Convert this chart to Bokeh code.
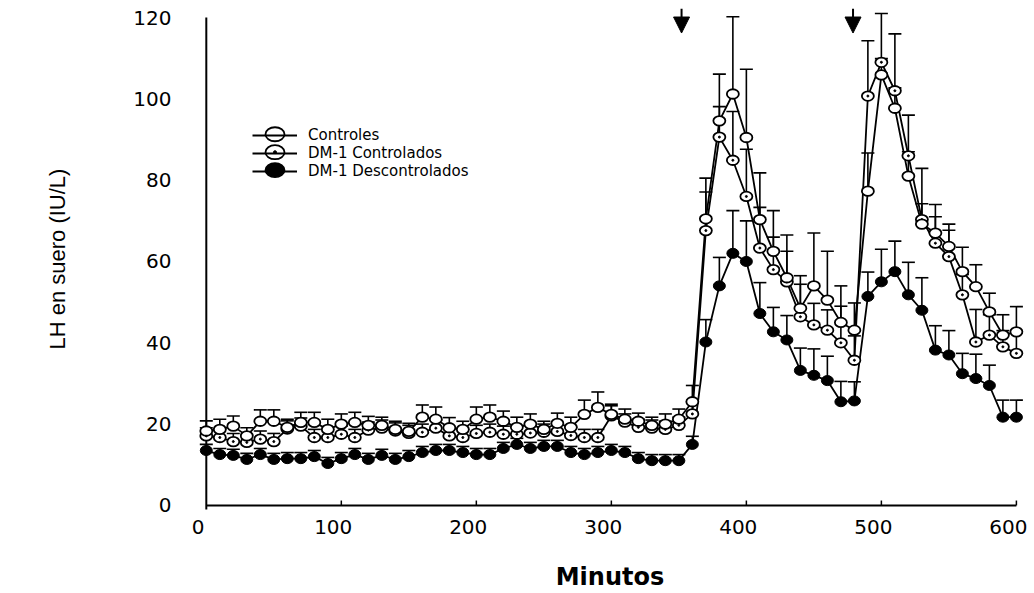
from bokeh.plotting import figure
from bokeh.models import (ColumnDataSource, Range1d, FixedTicker, Whisker, TeeHead,
                          Legend, LegendItem, Arrow, NormalHead)
from bokeh.embed import file_html
from bokeh.resources import INLINE

# ---------------- data ----------------
minutes = [0, 10, 20, 30, 40, 50, 60, 70, 80, 90, 100, 110, 120, 130, 140, 150, 160, 170, 180, 190,
           200, 210, 220, 230, 240, 250, 260, 270, 280, 290, 300, 310, 320, 330, 340, 350, 360, 370, 380, 390,
           400, 410, 420, 430, 440, 450, 460, 470, 480, 490, 500, 510, 520, 530, 540, 550, 560, 570, 580, 590, 600]

controles = [18.3, 18.7, 19.5, 17.1, 20.7, 20.7, 19.2, 20.4, 20.4, 18.7, 20.0, 20.4, 19.7, 19.7, 18.7, 18.2,
             21.7, 21.2, 19.1, 18.7, 21.2, 21.7, 20.7, 19.2, 20.0, 18.7, 20.2, 19.2, 22.4, 24.1, 22.4, 21.2,
             20.7, 19.7, 20.0, 21.2, 25.5, 70.5, 94.6, 101.2, 90.5, 70.3, 62.5, 56.0, 48.5, 54.0, 50.5, 45.0,
             43.1, 77.3, 105.9, 97.7, 81.0, 69.2, 67.0, 63.7, 57.5, 53.8, 47.6, 41.9, 42.7]
controles_err = [2.5, 2.5, 2.5, 2.0, 2.8, 2.8, 2.0, 2.5, 2.5, 2.5, 2.5, 2.5, 2.2, 2.0, 2.0, 2.0,
                 3.0, 3.0, 2.5, 2.0, 3.0, 3.0, 2.5, 2.5, 2.5, 2.0, 2.5, 2.5, 3.5, 3.8, 2.5, 2.5,
                 2.0, 2.0, 2.5, 2.5, 4.0, 10.0, 11.5, 19.0, 16.8, 11.5, 10.0, 10.5, 8.0, 13.0, 12.0, 9.0,
                 6.7, 9.4, 4.0, 5.0, 6.0, 5.0, 4.0, 4.0, 6.0, 5.4, 4.6, 5.0, 6.2]

dm1_contr = [17.1, 16.7, 15.7, 15.5, 16.3, 15.7, 18.8, 19.5, 16.7, 16.7, 17.5, 16.7, 18.5, 19.0, 18.3, 17.7,
             18.0, 19.0, 17.1, 16.7, 17.7, 18.0, 17.5, 17.5, 17.8, 18.0, 18.2, 17.2, 16.7, 16.7, 22.0, 20.5,
             19.2, 19.0, 18.7, 19.7, 22.5, 67.6, 90.6, 84.9, 76.0, 63.3, 58.0, 55.0, 46.4, 44.4, 43.1, 40.0,
             35.7, 100.7, 109.0, 102.0, 86.0, 70.3, 64.5, 61.2, 51.8, 40.2, 41.9, 39.0, 37.4]
dm1_contr_err = [2.0, 2.0, 2.0, 1.8, 2.0, 2.0, 2.0, 2.0, 2.0, 2.0, 2.0, 2.0, 2.0, 2.0, 2.0, 2.0,
                 2.0, 2.0, 2.0, 2.0, 2.0, 2.0, 2.0, 2.0, 2.0, 2.0, 2.0, 2.0, 2.0, 2.0, 2.5, 2.0,
                 2.0, 2.0, 2.0, 2.0, 3.0, 9.5, 7.5, 12.0, 11.6, 10.0, 8.0, 7.5, 8.0, 5.3, 5.0, 9.0,
                 6.0, 13.6, 12.0, 14.0, 10.0, 12.6, 9.5, 8.0, 5.0, 8.0, 5.0, 4.0, 5.0]

dm1_descontr = [13.5, 12.5, 12.3, 11.3, 12.5, 11.3, 11.5, 11.5, 12.0, 10.3, 11.5, 12.5, 11.3, 12.3, 11.3, 12.0,
                13.0, 13.5, 13.5, 13.0, 12.5, 12.5, 14.0, 15.0, 14.0, 14.5, 14.5, 13.0, 12.5, 13.0, 13.5, 13.0,
                11.5, 11.0, 11.0, 11.0, 15.0, 40.2, 54.0, 62.0, 60.0, 47.2, 42.7, 40.7, 33.2, 32.0, 30.7, 25.5,
                25.7, 51.4, 55.0, 57.5, 51.8, 48.0, 38.2, 37.0, 32.4, 31.2, 29.5, 21.7, 21.7]
dm1_descontr_err = [1.5, 1.5, 1.5, 1.5, 1.5, 1.5, 1.5, 1.5, 1.5, 1.5, 1.5, 1.5, 1.5, 1.5, 1.5, 1.5,
                    1.5, 1.5, 1.5, 1.5, 1.5, 1.5, 1.5, 1.5, 1.5, 1.5, 1.5, 1.5, 1.5, 1.5, 1.5, 1.5,
                    1.5, 1.5, 1.5, 1.5, 2.0, 5.5, 7.0, 10.5, 10.0, 7.6, 6.0, 6.0, 5.5, 6.5, 6.0, 5.0,
                    4.7, 6.0, 8.0, 7.5, 8.0, 8.0, 6.0, 6.0, 5.0, 6.0, 5.0, 4.2, 4.2]

series_names = ["Controles", "DM-1 Controlados", "DM-1 Descontrolados"]
x_ticks = [0, 100, 200, 300, 400, 500, 600]
y_ticks = [0, 20, 40, 60, 80, 100, 120]
arrow_x = [352, 479]

# ---------------- layout constants ----------------
W, H = 1034, 593
B_LEFT, B_RIGHT, B_TOP, B_BOTTOM = 195, 10, 0, 81
X0, X1 = -8, 606
Y0, Y1 = -1.5, 124.2
x_per_px = (W - B_LEFT - B_RIGHT) / (X1 - X0)
y_per_px = (H - B_TOP - B_BOTTOM) / (Y1 - Y0)

p = figure(width=W, height=H, output_backend="svg", toolbar_location=None,
           x_range=Range1d(X0, X1), y_range=Range1d(Y0, Y1),
           min_border_left=B_LEFT, min_border_right=B_RIGHT, min_border_top=B_TOP,
           min_border_bottom=B_BOTTOM)
p.outline_line_color = None
p.xgrid.visible = False
p.ygrid.visible = False
p.background_fill_color = "white"
p.border_fill_color = "white"

tick_font = "DejaVu Sans"
label_shift = 6
p.xaxis.ticker = FixedTicker(ticks=[t - label_shift for t in x_ticks])
p.xaxis.major_label_overrides = {t - label_shift: str(t) for t in x_ticks}
p.yaxis.ticker = FixedTicker(ticks=y_ticks)
for ax in (p.xaxis, p.yaxis):
    ax.axis_line_color = None
    ax.major_tick_line_color = None
    ax.minor_tick_line_color = None
    ax.major_tick_out = 0
    ax.major_tick_in = 0
    ax.major_label_text_font = tick_font
    ax.major_label_text_font_size = "20px"
    ax.major_label_text_color = "black"
p.xaxis.major_label_standoff = 8
p.yaxis.major_label_standoff = 24

p.xaxis.axis_label = "Minutos"
p.xaxis.axis_label_text_font = "DejaVu Sans"
p.xaxis.axis_label_text_font_style = "bold"
p.xaxis.axis_label_text_font_size = "24px"
p.xaxis.axis_label_standoff = 26
p.xaxis.axis_label_text_color = "black"

p.yaxis.axis_label = "LH en suero  (IU/L)"
p.yaxis.axis_label_text_font = "Liberation Sans"
p.yaxis.axis_label_text_font_style = "normal"
p.yaxis.axis_label_text_font_size = "22px"
p.yaxis.axis_label_standoff = 60
p.yaxis.axis_label_text_color = "black"

# axis lines drawn at data zero
p.segment(x0=[x_ticks[0], x_ticks[0]], y0=[y_ticks[0], -1.0], x1=[x_ticks[-1], x_ticks[0]],
          y1=[y_ticks[0], y_ticks[-1]], line_color="black", line_width=2)
p.segment(x0=x_ticks[1:], y0=[0] * (len(x_ticks) - 1), x1=x_ticks[1:], y1=[1.2] * (len(x_ticks) - 1),
          line_color="black", line_width=1.5)

# ---------------- series ----------------
data = [(controles, controles_err), (dm1_contr, dm1_contr_err), (dm1_descontr, dm1_descontr_err)]
sources = []
for vals, errs in data:
    src = ColumnDataSource(dict(x=minutes, y=vals, upper=[v + e for v, e in zip(vals, errs)]))
    sources.append(src)
    w = Whisker(base="x", lower="y", upper="upper", source=src, dimension="height",
                line_color="black", line_width=1.6,
                upper_head=TeeHead(size=13, line_color="black", line_width=1.6), lower_head=None,
                level="underlay")
    p.add_layout(w)

for src in sources:
    p.line("x", "y", source=src, line_color="black", line_width=1.8)

# filled first, open on top
p.ellipse("x", "y", source=sources[2], width=12, height=10, width_units="screen", height_units="screen",
          fill_color="black", line_color="black", line_width=1)
p.ellipse("x", "y", source=sources[1], width=12, height=9.5, width_units="screen", height_units="screen",
          fill_color="white", line_color="black", line_width=1.8)
p.scatter("x", "y", source=sources[1], size=2, marker="circle", fill_color="black", line_color="black")
p.ellipse("x", "y", source=sources[0], width=12, height=9.5, width_units="screen", height_units="screen",
          fill_color="white", line_color="black", line_width=1.8)

# stimulus arrows
for ax_ in arrow_x:
    p.add_layout(Arrow(x_start=ax_, y_start=122.2, x_end=ax_, y_end=116.2, line_color="black", line_width=2,
                       end=NormalHead(size=16, fill_color="black", line_color="black")))

# ---------------- legend ----------------
LEG_X, LEG_Y = 57, 331          # legend offset from frame's bottom-left (px)
GLYPH_W, ROW_H = 45, 18
items = []
for name in series_names:
    proxy = ColumnDataSource(dict(x=[float("nan")], y=[float("nan")]))
    lr = p.line("x", "y", source=proxy, line_color="black", line_width=1.8)
    items.append(LegendItem(label=name, renderers=[lr]))
legend = Legend(items=items, location=(LEG_X, LEG_Y), glyph_width=GLYPH_W, glyph_height=16,
                label_height=16, spacing=0, padding=0, margin=0, label_standoff=11,
                label_text_font="DejaVu Sans", label_text_font_size="15px", label_text_color="black",
                background_fill_alpha=0, border_line_color=None)
p.add_layout(legend)

# larger legend symbols placed on the legend's glyph centres
n = len(series_names)
leg_cx = X0 + (LEG_X + GLYPH_W / 2) / x_per_px
leg_cy = [Y0 + (LEG_Y + ROW_H * (n - i) - ROW_H / 2 + 2) / y_per_px for i in range(n)]
leg_src = ColumnDataSource(dict(x=[leg_cx] * n, y=leg_cy, fill=["white", "white", "black"]))
p.ellipse("x", "y", source=leg_src, width=19, height=14, width_units="screen", height_units="screen",
          fill_color="fill", line_color="black", line_width=1.8)
p.scatter(x=[leg_cx], y=[leg_cy[1]], size=3, marker="circle", fill_color="black", line_color="black")

open("out.html", "w").write(file_html(p, INLINE))
